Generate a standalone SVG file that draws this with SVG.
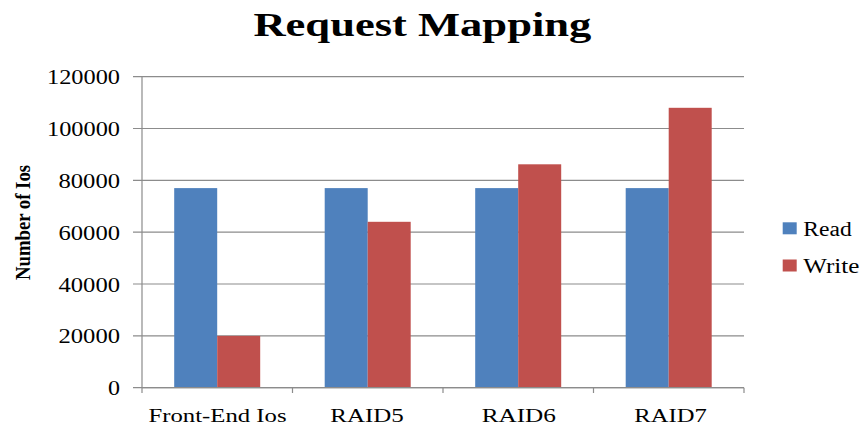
<svg xmlns="http://www.w3.org/2000/svg" width="862" height="427" viewBox="0 0 862 427">
<style>
.t{font-family:"Liberation Serif","Times New Roman",serif;fill:#000}
.title{font-size:34px;font-weight:bold}
.tick{font-size:20px;text-anchor:end}
.cat{font-size:19px;text-anchor:middle}
.leg{font-size:20px}
.ytitle{font-size:22px;font-weight:bold;text-anchor:middle}
.grid{stroke:#8c8c8c;stroke-width:1.2;fill:none}
.read{fill:#4F81BD}
.write{fill:#C0504D}
</style>
<rect width="862" height="427" fill="#fff"/>
<text class="t title" x="422.4" y="36" text-anchor="middle" textLength="338" lengthAdjust="spacingAndGlyphs">Request Mapping</text>
<g id="axes">
<path class="grid" d="M133 76.7H744M133 128.5H744M133 180.4H744M133 232.2H744M133 284H744M133 335.9H744M133 387.7H744"/>
<path class="grid" d="M142 76.7V393M292.5 387.7V393M443 387.7V393M593.5 387.7V393M744 387.7V393"/>
</g>
<g id="ylabels">
<text class="t tick" x="120" y="84.2" textLength="73" lengthAdjust="spacingAndGlyphs">120000</text>
<text class="t tick" x="120" y="136" textLength="73" lengthAdjust="spacingAndGlyphs">100000</text>
<text class="t tick" x="120" y="187.9" textLength="61.5" lengthAdjust="spacingAndGlyphs">80000</text>
<text class="t tick" x="120" y="239.7" textLength="61.5" lengthAdjust="spacingAndGlyphs">60000</text>
<text class="t tick" x="120" y="291.5" textLength="61.5" lengthAdjust="spacingAndGlyphs">40000</text>
<text class="t tick" x="120" y="343.4" textLength="61.5" lengthAdjust="spacingAndGlyphs">20000</text>
<text class="t tick" x="120" y="395.2" textLength="12" lengthAdjust="spacingAndGlyphs">0</text>
</g>
<text class="t ytitle" transform="translate(29.5,222.5) rotate(-90)" x="0" y="0" textLength="115" lengthAdjust="spacingAndGlyphs">Number of Ios</text>
<g id="bars">
<rect class="read" x="174.2" y="188.1" width="43" height="199.6"/>
<rect class="write" x="217.2" y="335.9" width="43" height="51.8"/>
<rect class="read" x="324.7" y="188.1" width="43" height="199.6"/>
<rect class="write" x="367.7" y="221.8" width="43" height="165.9"/>
<rect class="read" x="475.2" y="188.1" width="43" height="199.6"/>
<rect class="write" x="518.2" y="164.3" width="43" height="223.4"/>
<rect class="read" x="625.7" y="188.1" width="43" height="199.6"/>
<rect class="write" x="668.7" y="107.8" width="43" height="279.9"/>
</g>
<path class="grid" d="M142 387.7H744"/>
<g id="xlabels">
<text class="t cat" x="217.5" y="422.3" textLength="138" lengthAdjust="spacingAndGlyphs">Front-End Ios</text>
<text class="t cat" x="367" y="422.3" textLength="73.5" lengthAdjust="spacingAndGlyphs">RAID5</text>
<text class="t cat" x="518.8" y="422.3" textLength="74.3" lengthAdjust="spacingAndGlyphs">RAID6</text>
<text class="t cat" x="670.5" y="422.3" textLength="72.4" lengthAdjust="spacingAndGlyphs">RAID7</text>
</g>
<g id="legend">
<rect class="read" x="782.7" y="222.3" width="14" height="12"/>
<text class="t leg" x="803.3" y="236" textLength="48.4" lengthAdjust="spacingAndGlyphs">Read</text>
<rect class="write" x="782.7" y="259.5" width="14" height="12"/>
<text class="t leg" x="803.3" y="273.3" textLength="56" lengthAdjust="spacingAndGlyphs">Write</text>
</g>
</svg>
